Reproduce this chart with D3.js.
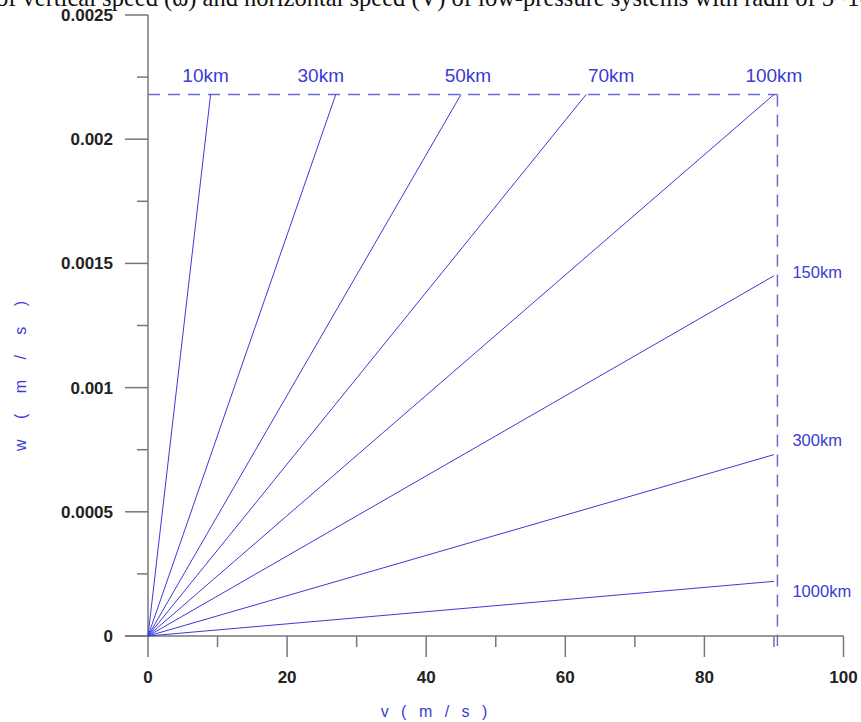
<!DOCTYPE html>
<html>
<head>
<meta charset="utf-8">
<script src="https://cdn.jsdelivr.net/npm/d3@7"></script>
<style>
  body { margin: 0; background: #fff; }
  svg { display: block; }
</style>
</head>
<body>
<svg width="861" height="722"></svg>
<script>
// radius of each low-pressure system and where its line ends (v, w)
const radii = ["10km", "30km", "50km", "70km", "100km", "150km", "300km", "1000km"];
const endV = [9, 27, 45, 63, 90, 90, 90, 90];
const endW = [0.00218, 0.00218, 0.00218, 0.00218, 0.00218, 0.00145, 0.00073, 0.00022];

const xTicks = [0, 20, 40, 60, 80, 100];
const yTicks = [0, 0.0005, 0.001, 0.0015, 0.002, 0.0025];
const yTickLabels = ["0", "0.0005", "0.001", "0.0015", "0.002", "0.0025"];

const guideW = 0.00218;
const guideV = 90.5;

const svg = d3.select("svg");
const blue = "#3b3bd6";
const sans = "Liberation Sans, Arial, sans-serif";

// scales
const x = d3.scaleLinear().domain([0, 100]).range([148, 843.5]);
const y = d3.scaleLinear().domain([0, 0.0025]).range([636, 15]);

// clipped title on top
svg.append("text")
  .attr("x", -4)
  .attr("y", 6)
  .style("font-family", "Liberation Serif, serif")
  .style("font-size", "24.5px")
  .style("fill", "#111")
  .text("of vertical speed (ω) and horizontal speed (V) of low-pressure systems with radii of 5~10");

// x axis
const xAxis = svg.append("g").attr("transform", `translate(0,${y(0)})`);
xAxis.append("line")
  .attr("x1", 125).attr("x2", x(100))
  .attr("stroke", "#777").attr("stroke-width", 1.5);
xAxis.selectAll(".major")
  .data(xTicks).enter().append("line")
  .attr("x1", d => x(d)).attr("x2", d => x(d))
  .attr("y1", 0).attr("y2", 21)
  .attr("stroke", "#777").attr("stroke-width", 1.5);
xAxis.selectAll(".minor")
  .data(d3.range(10, 100, 20)).enter().append("line")
  .attr("x1", d => x(d)).attr("x2", d => x(d))
  .attr("y1", 0).attr("y2", 11)
  .attr("stroke", "#777").attr("stroke-width", 1.5);
xAxis.selectAll(".lbl")
  .data(xTicks).enter().append("text")
  .attr("x", d => x(d))
  .attr("y", 47)
  .attr("text-anchor", "middle")
  .style("font-family", sans)
  .style("font-weight", "bold")
  .style("font-size", "17px")
  .style("fill", "#222")
  .text(d => d);

// y axis
const yAxis = svg.append("g").attr("transform", `translate(${x(0)},0)`);
yAxis.append("line")
  .attr("y1", y(0)).attr("y2", y(0.0025))
  .attr("stroke", "#777").attr("stroke-width", 1.5);
yAxis.selectAll(".major")
  .data(yTicks).enter().append("line")
  .attr("x1", -23).attr("x2", 0)
  .attr("y1", d => y(d)).attr("y2", d => y(d))
  .attr("stroke", "#777").attr("stroke-width", 1.5);
yAxis.selectAll(".minor")
  .data(d3.range(0.00025, 0.0025, 0.0005)).enter().append("line")
  .attr("x1", -11).attr("x2", 0)
  .attr("y1", d => y(d)).attr("y2", d => y(d))
  .attr("stroke", "#777").attr("stroke-width", 1.5);
yAxis.selectAll(".lbl")
  .data(yTicks).enter().append("text")
  .attr("x", -35)
  .attr("y", d => y(d) + 6)
  .attr("text-anchor", "end")
  .style("font-family", sans)
  .style("font-weight", "bold")
  .style("font-size", "17px")
  .style("fill", "#222")
  .text((d, i) => yTickLabels[i]);

// axis titles
svg.append("text")
  .attr("x", 436).attr("y", 717)
  .attr("text-anchor", "middle")
  .style("font-family", sans)
  .style("font-size", "16px")
  .style("letter-spacing", "4px")
  .style("fill", blue)
  .text("v ( m / s )");

svg.append("text")
  .attr("transform", "translate(26,372) rotate(-90)")
  .attr("text-anchor", "middle")
  .style("font-family", sans)
  .style("font-size", "16px")
  .style("letter-spacing", "8px")
  .style("fill", blue)
  .text("w ( m / s )");

// dashed guides
svg.append("line")
  .attr("x1", x(0)).attr("x2", x(guideV))
  .attr("y1", y(guideW)).attr("y2", y(guideW))
  .attr("stroke", "#6a6ad8").attr("stroke-width", 1.5)
  .attr("stroke-dasharray", "12,8");
svg.append("line")
  .attr("x1", x(guideV)).attr("x2", x(guideV))
  .attr("y1", y(guideW)).attr("y2", y(0) + 10)
  .attr("stroke", "#6a6ad8").attr("stroke-width", 1.5)
  .attr("stroke-dasharray", "12,8");

// radius lines
const lines = radii.map((r, i) => ({ r: r, pts: [[0, 0], [endV[i], endW[i]]] }));
const line = d3.line().x(d => x(d[0])).y(d => y(d[1]));
svg.selectAll(".ray")
  .data(lines).enter().append("path")
  .attr("d", d => line(d.pts))
  .attr("fill", "none")
  .attr("stroke", blue)
  .attr("stroke-width", 1);

// label nudges (pixels) as placed in the original figure
const topDx = [-5, -15, 7, 25, 0];
const sideDy = [2, -9, 16];

svg.selectAll(".lab")
  .data(lines).enter().append("text")
  .attr("x", (d, i) => i < 5 ? x(d.pts[1][0]) + topDx[i] : x(guideV) + 15)
  .attr("y", (d, i) => i < 5 ? 82 : y(d.pts[1][1]) + sideDy[i - 5])
  .attr("text-anchor", (d, i) => i < 5 ? "middle" : "start")
  .style("font-family", sans)
  .style("font-size", (d, i) => i < 5 ? "19px" : "16.5px")
  .style("fill", blue)
  .text(d => d.r);
</script>
</body>
</html>
